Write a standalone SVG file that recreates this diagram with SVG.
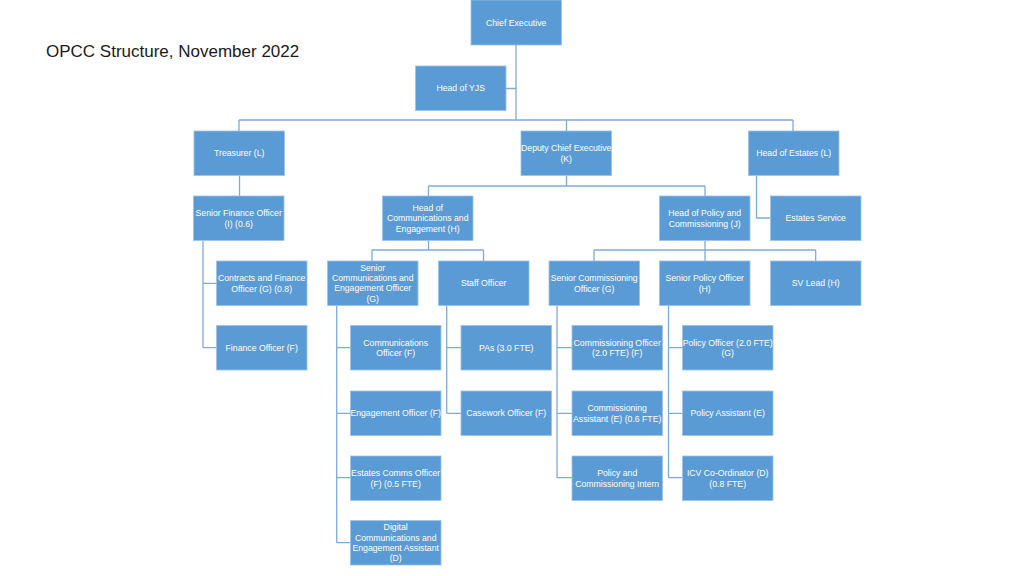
<svg xmlns="http://www.w3.org/2000/svg" width="1024" height="576" viewBox="0 0 1024 576">
<style>
.bx{fill:#5B9BD5;stroke:#9cc2e8;stroke-width:0.8}
.t{font-family:"Liberation Sans",Arial,sans-serif;font-size:8.7px;fill:#ffffff;text-anchor:middle}
.ttl{font-family:"Liberation Sans",Arial,sans-serif;font-size:17px;fill:#1a1a1a}
.c{fill:none;stroke:#80aadc;stroke-width:1.3}
</style>
<rect width="1024" height="576" fill="#ffffff"/>
<text class="ttl" x="46" y="56.5">OPCC Structure, November 2022</text>
<g id="connectors" class="c">
<path d="M516,45V120M506,88.5H516M239,120H793M239,120V131M566.5,120V131M793,120V131"/>
<path d="M239.5,175.5V196"/>
<path d="M566.5,175.5V186M428.5,186H705M428.5,186V196M705,186V196"/>
<path d="M756.5,175.5V218H770.5"/>
<path d="M203,240.5V347.7M203,283.3H216.5M203,347.7H216.5"/>
<path d="M428.5,240.5V250M372,250H483.5M372,250V261M483.5,250V261"/>
<path d="M705,240.5V250M594,250H815.7M594,250V261M705,250V261M815.7,250V261"/>
<path d="M336.7,305.5V542.7M336.7,347.7H350.5M336.7,413.3H350.5M336.7,477.7H350.5M336.7,542.7H350.5"/>
<path d="M446.7,305.5V413.3M446.7,347.7H461M446.7,413.3H461"/>
<path d="M557,305.5V477.7M557,347.7H572M557,413.3H572M557,477.7H572"/>
<path d="M668.5,305.5V477.7M668.5,347.7H682.5M668.5,413.3H682.5M668.5,477.7H682.5"/>
</g>
<g id="n-ce"><rect class="bx" x="471" y="0" width="90.5" height="45"/><text class="t" x="516.2" y="25.5">Chief Executive</text></g>
<g id="n-yjs"><rect class="bx" x="415.5" y="66" width="90.5" height="44.5"/><text class="t" x="460.7" y="91.3">Head of YJS</text></g>
<g id="n-treasurer"><rect class="bx" x="194" y="131" width="90.5" height="44.5"/><text class="t" x="239.2" y="156.3">Treasurer (L)</text></g>
<g id="n-deputy"><rect class="bx" x="521" y="131" width="90.5" height="44.5"/><text class="t" x="566.2" y="151.2">Deputy Chief Executive<tspan x="566.2" dy="10.3">(K)</tspan></text></g>
<g id="n-hoe"><rect class="bx" x="748.5" y="131" width="90.5" height="44.5"/><text class="t" x="793.7" y="156.3">Head of Estates (L)</text></g>
<g id="n-sfo"><rect class="bx" x="193.5" y="196" width="90.5" height="44.5"/><text class="t" x="238.7" y="216.2">Senior Finance Officer<tspan x="238.7" dy="10.3">(I) (0.6)</tspan></text></g>
<g id="n-hoc"><rect class="bx" x="382.5" y="196" width="90.5" height="44.5"/><text class="t" x="427.7" y="210.9">Head of<tspan x="427.7" dy="10.3">Communications and</tspan><tspan x="427.7" dy="10.3">Engagement (H)</tspan></text></g>
<g id="n-hopc"><rect class="bx" x="659.5" y="196" width="90.5" height="44.5"/><text class="t" x="704.7" y="216.2">Head of Policy and<tspan x="704.7" dy="10.3">Commissioning (J)</tspan></text></g>
<g id="n-es"><rect class="bx" x="770.5" y="196" width="90.5" height="44.5"/><text class="t" x="815.7" y="221.3">Estates Service</text></g>
<g id="n-cfo"><rect class="bx" x="216.5" y="261" width="90.5" height="44.5"/><text class="t" x="261.7" y="281.2">Contracts and Finance<tspan x="261.7" dy="10.3">Officer (G) (0.8)</tspan></text></g>
<g id="n-sceo"><rect class="bx" x="327.5" y="261" width="90.5" height="44.5"/><text class="t" x="372.7" y="270.7">Senior<tspan x="372.7" dy="10.3">Communications and</tspan><tspan x="372.7" dy="10.3">Engagement Officer</tspan><tspan x="372.7" dy="10.3">(G)</tspan></text></g>
<g id="n-staff"><rect class="bx" x="438.5" y="261" width="90.5" height="44.5"/><text class="t" x="483.7" y="286.3">Staff Officer</text></g>
<g id="n-sco"><rect class="bx" x="549" y="261" width="90.5" height="44.5"/><text class="t" x="594.2" y="281.2">Senior Commissioning<tspan x="594.2" dy="10.3">Officer (G)</tspan></text></g>
<g id="n-spo"><rect class="bx" x="659.5" y="261" width="90.5" height="44.5"/><text class="t" x="704.7" y="281.2">Senior Policy Officer<tspan x="704.7" dy="10.3">(H)</tspan></text></g>
<g id="n-sv"><rect class="bx" x="770.5" y="261" width="90.5" height="44.5"/><text class="t" x="815.7" y="286.3">SV Lead (H)</text></g>
<g id="n-fo"><rect class="bx" x="216.5" y="325.5" width="90.5" height="44.5"/><text class="t" x="261.7" y="350.8">Finance Officer (F)</text></g>
<g id="n-co"><rect class="bx" x="350.5" y="325.5" width="90.5" height="44.5"/><text class="t" x="395.7" y="345.7">Communications<tspan x="395.7" dy="10.3">Officer (F)</tspan></text></g>
<g id="n-pas"><rect class="bx" x="461" y="325.5" width="90.5" height="44.5"/><text class="t" x="506.2" y="350.8">PAs (3.0 FTE)</text></g>
<g id="n-cmo"><rect class="bx" x="572" y="325.5" width="90.5" height="44.5"/><text class="t" x="617.2" y="345.7">Commissioning Officer<tspan x="617.2" dy="10.3">(2.0 FTE) (F)</tspan></text></g>
<g id="n-po"><rect class="bx" x="682.5" y="325.5" width="90.5" height="44.5"/><text class="t" x="727.7" y="345.7">Policy Officer (2.0 FTE)<tspan x="727.7" dy="10.3">(G)</tspan></text></g>
<g id="n-eo"><rect class="bx" x="350.5" y="391" width="90.5" height="44.5"/><text class="t" x="395.7" y="416.3">Engagement Officer (F)</text></g>
<g id="n-cw"><rect class="bx" x="461" y="391" width="90.5" height="44.5"/><text class="t" x="506.2" y="416.3">Casework Officer (F)</text></g>
<g id="n-ca"><rect class="bx" x="572" y="391" width="90.5" height="44.5"/><text class="t" x="617.2" y="411.2">Commissioning<tspan x="617.2" dy="10.3">Assistant (E) (0.6 FTE)</tspan></text></g>
<g id="n-pa"><rect class="bx" x="682.5" y="391" width="90.5" height="44.5"/><text class="t" x="727.7" y="416.3">Policy Assistant (E)</text></g>
<g id="n-eco"><rect class="bx" x="350.5" y="456" width="90.5" height="44.5"/><text class="t" x="395.7" y="476.2">Estates Comms Officer<tspan x="395.7" dy="10.3">(F) (0.5 FTE)</tspan></text></g>
<g id="n-pci"><rect class="bx" x="572" y="456" width="90.5" height="44.5"/><text class="t" x="617.2" y="476.2">Policy and<tspan x="617.2" dy="10.3">Commissioning Intern</tspan></text></g>
<g id="n-icv"><rect class="bx" x="682.5" y="456" width="90.5" height="44.5"/><text class="t" x="727.7" y="476.2">ICV Co-Ordinator (D)<tspan x="727.7" dy="10.3">(0.8 FTE)</tspan></text></g>
<g id="n-dcea"><rect class="bx" x="350.5" y="520.5" width="90.5" height="44.5"/><text class="t" x="395.7" y="530.2">Digital<tspan x="395.7" dy="10.3">Communications and</tspan><tspan x="395.7" dy="10.3">Engagement Assistant</tspan><tspan x="395.7" dy="10.3">(D)</tspan></text></g>
</svg>
